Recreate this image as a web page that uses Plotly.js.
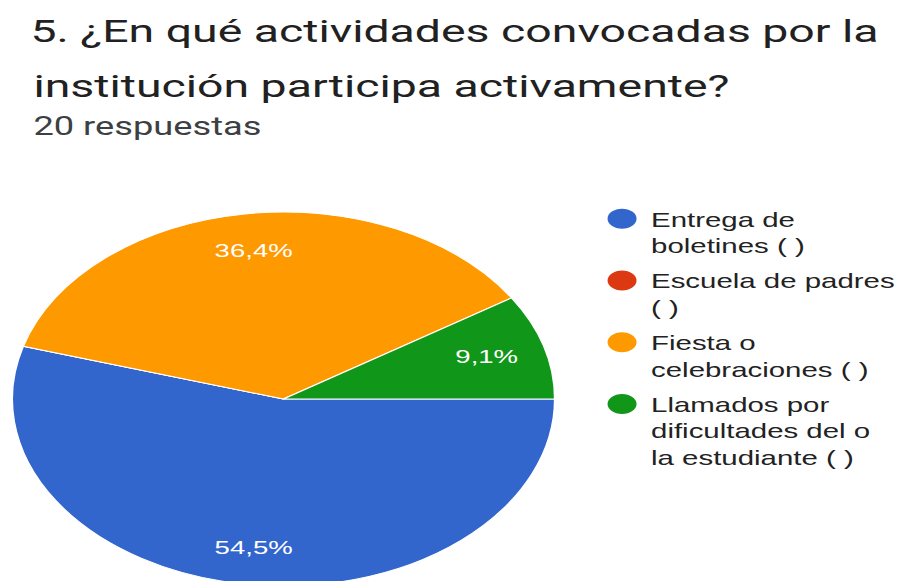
<!DOCTYPE html>
<html>
<head>
<meta charset="utf-8">
<script src="https://cdn.plot.ly/plotly-3.0.1.min.js"></script>
<style>
  html, body { margin: 0; padding: 0; background: #fff; overflow: hidden; width: 904px; height: 581px; }
  #chart { width: 624px; height: 600px; transform: scaleX(1.45); transform-origin: 0 0; }
</style>
</head>
<body>
<div id="chart"></div>
<script>
// Data
const categories = [
  "Entrega de<br>boletines ( )",
  "Escuela de padres<br>( )",
  "Fiesta o<br>celebraciones ( )",
  "Llamados por<br>dificultades del o<br>la estudiante ( )"
];
const counts = [6, 0, 4, 1];
const colors = ["#3366cc", "#dc3912", "#ff9900", "#109618"];
const titleLine1 = "5. ¿En qué actividades convocadas por la";
const titleLine2 = "institución participa activamente?";
const subtitle = "20 respuestas";

const W = 624, H = 600;
const pieDomain = { x: [8.5 / W, 382.5 / W], y: [(H - 586) / H, (H - 212) / H] };

const pieTrace = {
  type: "pie",
  values: counts,
  labels: categories,
  marker: { colors: colors, line: { color: "#ffffff", width: 1 } },
  sort: false,
  direction: "clockwise",
  rotation: 90,
  showlegend: false,
  textinfo: "none",
  hoverinfo: "label+percent",
  domain: pieDomain
};

const legendTraces = categories.map((c, i) => ({
  type: "scatter",
  mode: "markers",
  x: [null], y: [null],
  name: c,
  legendgroup: "g" + i,
  marker: { color: colors[i], size: 16, symbol: "circle", line: { color: colors[i], width: 4 } },
  showlegend: true,
  hoverinfo: "skip"
}));

// Percentage labels placed at 80% of the radius along each slice's mid-angle (computed from data)
const total = counts.reduce((a, b) => a + b, 0);
const cxP = (pieDomain.x[0] + pieDomain.x[1]) / 2;
const cyP = (pieDomain.y[0] + pieDomain.y[1]) / 2;
const rPx = Math.min((pieDomain.x[1] - pieDomain.x[0]) * W, (pieDomain.y[1] - pieDomain.y[0]) * H) / 2;
const labelAnns = [];
let cum = 0;
counts.forEach((v) => {
  if (v > 0) {
    const mid = (cum + v / 2) / total * 2 * Math.PI; // clockwise from 3 o'clock
    const dx = 0.78 * rPx * Math.cos(mid);
    const dy = 0.8 * rPx * Math.sin(mid);
    labelAnns.push({
      text: (v / total * 100).toFixed(1).replace(".", ",") + "%",
      showarrow: false, xref: "paper", yref: "paper",
      x: cxP + dx / W, y: cyP - dy / H, xanchor: "center", yanchor: "middle",
      font: { family: "Liberation Sans, Arial, sans-serif", size: 19, color: "#ffffff" }
    });
  }
  cum += v;
});

const layout = {
  width: W, height: H,
  margin: { l: 0, r: 0, t: 0, b: 0, pad: 0 },
  paper_bgcolor: "#ffffff",
  plot_bgcolor: "#ffffff",
  separators: ",.",
  font: { family: "Roboto, Arial, sans-serif", color: "#212121" },
  title: {
    text: titleLine1,
    font: { family: "Roboto, Arial, sans-serif", size: 32, color: "#212121" },
    x: 21 / W, xanchor: "left", xref: "paper",
    y: 1 - 20 / H, yanchor: "top", yref: "container"
  },
  annotations: [
    {
      text: titleLine2, showarrow: false,
      xref: "paper", yref: "paper", x: 21 / W, xanchor: "left",
      y: 1 - 65 / H, yanchor: "top",
      font: { family: "Roboto, Arial, sans-serif", size: 32, color: "#212121" }
    },
    {
      text: subtitle, showarrow: false,
      xref: "paper", yref: "paper", x: 21 / W, xanchor: "left",
      y: 1 - 110 / H, yanchor: "top",
      font: { family: "Roboto, Arial, sans-serif", size: 25, color: "#3c4043" }
    }
  ].concat(labelAnns),
  xaxis: { visible: false, domain: [0.99, 1] },
  yaxis: { visible: false, domain: [0.99, 1] },
  showlegend: true,
  legend: {
    x: 409 / W, xanchor: "left",
    y: 1 - 199 / H, yanchor: "top",
    valign: "top",
    bgcolor: "rgba(0,0,0,0)",
    font: { family: "Liberation Sans, Arial, sans-serif", size: 20.3, color: "#222222" },
    itemclick: false, itemdoubleclick: false,
    tracegroupgap: 6
  }
};

Plotly.newPlot("chart", [pieTrace].concat(legendTraces), layout, { displayModeBar: false, staticPlot: true });
</script>
</body>
</html>
